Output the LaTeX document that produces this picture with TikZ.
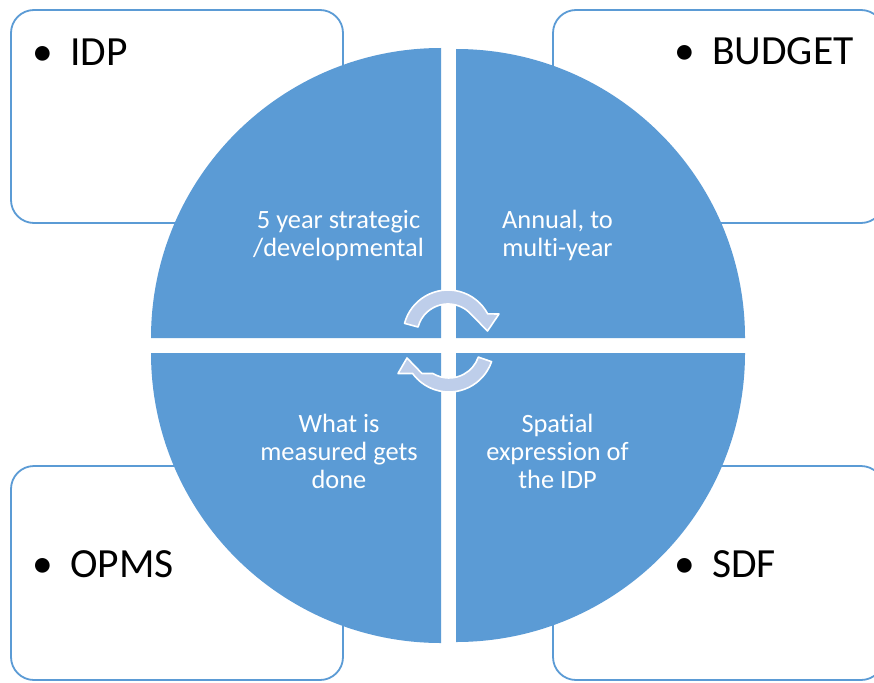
\documentclass[tikz,border=0pt]{standalone}
\usepackage{fontspec}
\setmainfont{Carlito}[Ligatures=NoCommon]
\usetikzlibrary{calc}
\definecolor{accent}{RGB}{91,155,213}
\definecolor{arrowfill}{RGB}{190,206,234}
\begin{document}
\begin{tikzpicture}[x=1pt,y=1pt,
  box/.style={draw=accent, line width=1.8pt, rounded corners=23pt, fill=white, inner sep=0pt},
  quad/.style={fill=accent},
  cyc/.style={fill=arrowfill, draw=white, line width=1.6pt, line join=round},
  qtext/.style={text=white, font=\fontsize{26.4}{28}\selectfont, align=center, inner sep=0pt, anchor=north},
  lab/.style={text=black, font=\fontsize{41.5}{48}\selectfont, inner sep=0pt, anchor=base west},
  bul/.style={text=black, font=\fontsize{41.5}{48}\selectfont, inner sep=0pt, anchor=base}]
\useasboundingbox (0,0) rectangle (874,-682);
\fill[white] (0,0) rectangle (874,-682);

% outer boxes
\node[box, minimum width=332pt, minimum height=213pt] (idpbox) at (177,-116.5) {};
\node[box, minimum width=331pt, minimum height=213pt] (budgetbox) at (718.5,-116.5) {};
\node[box, minimum width=332pt, minimum height=214pt] (opmsbox) at (177,-573) {};
\node[box, minimum width=331pt, minimum height=214pt] (sdfbox) at (718.5,-573) {};

% box labels
\node[bul] (b1) at (43,-66) {•};
\node[lab] (idp) at (70,-66) {IDP};
\node[bul] (b2) at (685,-65) {•};
\node[lab] (budget) at (712,-65) {BUDGET};
\node[bul] (b3) at (43,-577) {•};
\node[lab] (opms) at (70,-577) {OPMS};
\node[bul] (b4) at (685,-577) {•};
\node[lab] (sdf) at (712,-577) {SDF};

% quadrants
\fill[quad] (441,-338) -- ++(180:290) arc[start angle=180, end angle=90, radius=290] -- cycle;
\fill[quad] (456,-338) -- ++(90:289) arc[start angle=90, end angle=0, radius=289] -- cycle;
\fill[quad] (441,-353) -- ++(180:290) arc[start angle=180, end angle=270, radius=290] -- cycle;
\fill[quad] (456,-353) -- ++(0:289) arc[start angle=0, end angle=-90, radius=289] -- cycle;

% quadrant texts
\node[qtext] (t1) at (338.5,-208.4) {\strut 5 year strategic\\\strut /developmental};
\node[qtext] (t2) at (557.5,-208.4) {\strut Annual, to\\\strut multi-year};
\node[qtext] (t3) at (339,-412.4) {\strut What is\\\strut measured gets\\\strut done};
\node[qtext] (t4) at (557.5,-412.4) {\strut Spatial\\\strut expression of\\\strut the IDP};

% circular arrows
\coordinate (c1) at (448,-335);
\coordinate (c2) at (449,-347);
\filldraw[cyc] ($(c1)+(165:45)$) arc[start angle=165, end angle=28, radius=45]
  -- (499,-314) -- (487.5,-331) -- ($(c1)+(42:31)$)
  arc[start angle=42, end angle=165, radius=31] -- cycle;
\filldraw[cyc] ($(c2)+(-19:45)$) arc[start angle=-19, end angle=-144, radius=45]
  -- (398,-373.5) -- (407,-358) -- (422,-373.5) -- ($(c2)+(-121.3:31)$)
  arc[start angle=-121.3, end angle=-19, radius=31] -- cycle;
\end{tikzpicture}
\end{document}
